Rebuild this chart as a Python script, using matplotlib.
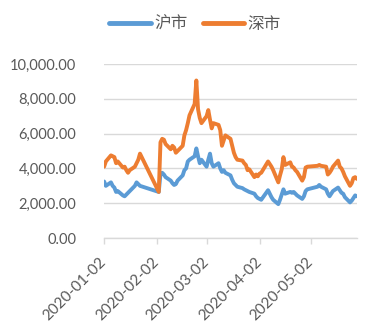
import matplotlib
matplotlib.use("Agg")
import matplotlib.pyplot as plt
import matplotlib.dates as mdates
from matplotlib.ticker import FuncFormatter
import pandas as pd

plt.rcParams['font.family'] = ['Lato', 'Noto Sans CJK SC', 'DejaVu Sans']

# Trading days, Jan-May 2020
trade_dates = [
    "2020-01-02", "2020-01-03", "2020-01-06", "2020-01-07", "2020-01-08", "2020-01-09",
    "2020-01-10", "2020-01-13", "2020-01-14", "2020-01-15", "2020-01-16", "2020-01-17",
    "2020-01-20", "2020-01-21", "2020-01-22", "2020-01-23",
    "2020-02-03", "2020-02-04", "2020-02-05", "2020-02-06", "2020-02-07", "2020-02-10",
    "2020-02-11", "2020-02-12", "2020-02-13", "2020-02-14", "2020-02-17", "2020-02-18",
    "2020-02-19", "2020-02-20", "2020-02-21", "2020-02-24", "2020-02-25", "2020-02-26",
    "2020-02-27", "2020-02-28",
    "2020-03-02", "2020-03-03", "2020-03-04", "2020-03-05", "2020-03-06", "2020-03-09",
    "2020-03-10", "2020-03-11", "2020-03-12", "2020-03-13", "2020-03-16", "2020-03-17",
    "2020-03-18", "2020-03-19", "2020-03-20", "2020-03-23", "2020-03-24", "2020-03-25",
    "2020-03-26", "2020-03-27", "2020-03-30", "2020-03-31",
    "2020-04-01", "2020-04-02", "2020-04-03", "2020-04-07", "2020-04-08", "2020-04-09",
    "2020-04-10", "2020-04-13", "2020-04-14", "2020-04-15", "2020-04-16", "2020-04-17",
    "2020-04-20", "2020-04-21", "2020-04-22", "2020-04-23", "2020-04-24", "2020-04-27",
    "2020-04-28", "2020-04-29", "2020-04-30",
    "2020-05-06", "2020-05-07", "2020-05-08", "2020-05-11", "2020-05-12", "2020-05-13",
    "2020-05-14", "2020-05-15", "2020-05-18", "2020-05-19", "2020-05-20", "2020-05-21",
    "2020-05-22", "2020-05-25", "2020-05-26", "2020-05-27", "2020-05-28", "2020-05-29",
]

# Shanghai market (沪市)
sh_values = [
    3250, 3000, 3200, 3000, 2900, 2650, 2700, 2450, 2400, 2500, 2600, 2700,
    3000, 3200, 3100, 3000,
    2650, 3700, 3750, 3650, 3500, 3300, 3150, 3050, 3100, 3300, 3600, 3900,
    4000, 4400, 4500, 4700, 5150, 4700, 4300, 4500,
    4100, 4500, 4850, 4300, 4100, 4300, 4000, 3800, 3900, 3750, 3600, 3350,
    3150, 3050, 2950, 2870, 2800, 2750, 2700, 2650, 2550, 2400,
    2300, 2250, 2200, 2750, 2550, 2350, 2200, 1950, 2200, 2500, 2800, 2550,
    2650, 2600, 2650, 2550, 2450, 2250, 2400, 2700, 2800,
    2950, 3050, 2950, 2800, 2550, 2400, 2550, 2700, 2900, 2750, 2600, 2550,
    2350, 2050, 2150, 2300, 2450, 2400,
]

# Shenzhen market (深市)
sz_values = [
    4100, 4400, 4750, 4700, 4650, 4300, 4400, 4050, 4100, 3900, 3750, 3900,
    4100, 4300, 4500, 4850,
    2650, 5500, 5700, 5650, 5400, 5100, 5300, 5200, 4900, 5000, 5300, 5900,
    6200, 6600, 7050, 7700, 9050, 7400, 6900, 6600,
    7000, 7350, 6800, 6300, 6600, 6500, 6200, 5300, 5600, 5900, 5700, 5300,
    4900, 4650, 4500, 4450, 4300, 4200, 3900, 3950, 3500, 3650,
    3550, 3700, 3750, 4400, 4250, 4100, 3900, 3200, 3600, 3950, 4650, 4200,
    4350, 4100, 4050, 3900, 3800, 3300, 3500, 4050, 4100,
    4150, 4200, 4150, 4100, 3650, 3750, 3900, 4100, 4450, 4100, 4000, 3800,
    3550, 3000, 3150, 3450, 3500, 3400,
]

tick_dates = ["2020-01-02", "2020-02-02", "2020-03-02", "2020-04-02", "2020-05-02"]
y_ticks = [0, 2000, 4000, 6000, 8000, 10000]

dates = pd.to_datetime(trade_dates)
tick_pos = pd.to_datetime(tick_dates)

fig = plt.figure(figsize=(3.9, 3.33), dpi=100)
ax = fig.add_axes([0.267, 0.285, 0.648, 0.523])

blue = "#5b9bd5"
orange = "#ed7d31"
grid_c = "#d9d9d9"
text_c = "#595959"

ax.plot(dates, sh_values, color=blue, lw=2.8, solid_joinstyle="round",
        solid_capstyle="round", label="沪市", zorder=3)
ax.plot(dates, sz_values, color=orange, lw=2.8, solid_joinstyle="round",
        solid_capstyle="round", label="深市", zorder=4)

ax.set_xlim(pd.Timestamp("2020-01-02"), pd.Timestamp("2020-05-29"))
ax.set_ylim(0, 10000)
ax.set_yticks(y_ticks)
ax.yaxis.set_major_formatter(FuncFormatter(lambda v, p: f"{v:,.2f}"))
ax.set_xticks(tick_pos)
ax.xaxis.set_major_formatter(mdates.DateFormatter("%Y-%m-%d"))

ax.grid(axis="y", color=grid_c, lw=1.0)
ax.set_axisbelow(True)
for s in ["top", "right", "left"]:
    ax.spines[s].set_visible(False)
ax.spines["bottom"].set_color(grid_c)
ax.spines["bottom"].set_linewidth(1.0)

ax.tick_params(axis="y", length=0, pad=20, labelsize=10.5, labelcolor=text_c)
ax.tick_params(axis="x", length=4, width=1.0, color=grid_c, pad=12, labelsize=11, labelcolor=text_c)
for lab in ax.get_xticklabels():
    lab.set_rotation(45)
    lab.set_ha("right")
    lab.set_va("center")
    lab.set_rotation_mode("anchor")

leg = fig.legend(loc="center", bbox_to_anchor=(0.5, 0.928), ncol=2, frameon=False,
                 fontsize=12, handlelength=2.5, handletextpad=0.2, columnspacing=0.9,
                 labelcolor=text_c)
for h in leg.get_lines():
    h.set_linewidth(3.5)

fig.savefig("out.png", dpi=100, facecolor="white")
